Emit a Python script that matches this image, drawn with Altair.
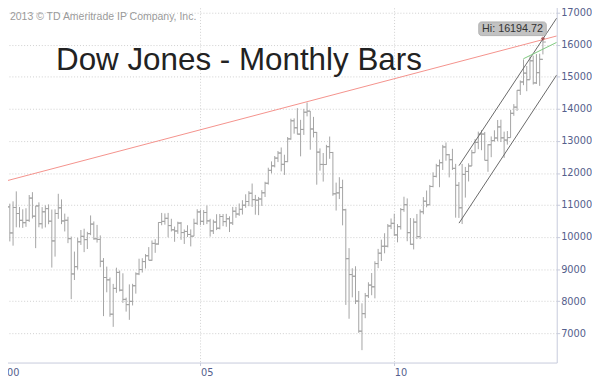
import altair as alt
import pandas as pd

# ---- monthly OHLC, Dec 1999 .. Nov 2013 ----
first_year, first_month = 1999, 12
opens = [
    10878,
    11501, 10941, 10128, 10922, 10734, 10522, 10448, 10522, 11215, 10651, 10971, 10415,
    10788, 10887, 10495, 9879, 10735, 10912, 10502, 10523, 9950, 8848, 9075, 9852,
    10022, 9920, 10106, 10404, 9946, 9925, 9243, 8737, 8664, 7592, 8397, 8896,
    8342, 8054, 7891, 7992, 8480, 8850, 8985, 9234, 9416, 9275, 9801, 9782,
    10454, 10488, 10584, 10358, 10226, 10188, 10435, 10140, 10174, 10080, 10027, 10428,
    10783, 10490, 10766, 10504, 10193, 10467, 10275, 10641, 10482, 10569, 10440, 10806,
    10718, 10865, 10993, 11109, 11367, 11168, 11150, 11186, 11381, 11679, 12081, 12222,
    12463, 12622, 12269, 12354, 13063, 13628, 13409, 13212, 13358, 13896, 13930, 13372,
    13265, 12650, 12266, 12263, 12820, 12638, 11350, 11378, 11544, 10851, 9325, 8829,
    8776, 8001, 7063, 7609, 8168, 8500, 8447, 9172, 9496, 9712, 9713, 10345,
    10428, 10067, 10325, 10857, 11009, 10137, 9774, 10466, 10015, 10788, 11118, 11006,
    11578, 11892, 12226, 12320, 12811, 12570, 12414, 12143, 11614, 10913, 11955, 12046,
    12218, 12633, 12952, 13212, 13214, 12393, 12880, 13009, 13091, 13437, 13096, 13026,
    13104, 13861, 14054, 14579, 14840, 15116, 14910, 15500, 14810, 15130, 15546,
]
highs = [
    11570,
    11750, 11041, 11114, 11425, 10936, 10866, 10898, 11311, 11401, 10974, 11082, 10935,
    10987, 11018, 10858, 10863, 11350, 11175, 10731, 10633, 10015, 9546, 9976, 10220,
    10260, 10163, 10674, 10486, 10379, 10051, 9343, 9077, 8737, 8538, 9043, 8954,
    8869, 8109, 8522, 8540, 8898, 9323, 9339, 9467, 9686, 9892, 9933, 10462,
    10753, 10738, 10753, 10570, 10326, 10479, 10470, 10237, 10368, 10239, 10572, 10868,
    10855, 10842, 10984, 10569, 10543, 10712, 10720, 10720, 10723, 10646, 10940, 10940,
    11048, 11150, 11334, 11432, 11670, 11315, 11252, 11464, 11725, 12163, 12361, 12529,
    12686, 12795, 12569, 13121, 13693, 13703, 14022, 13658, 14000, 14198, 13932, 13750,
    13280, 12767, 12622, 12877, 13136, 12657, 11698, 11867, 11790, 10882, 9654, 9026,
    9088, 8316, 7932, 8254, 8588, 8878, 9243, 9630, 9918, 10119, 10406, 10580,
    10729, 10404, 10906, 11258, 11206, 10594, 10584, 10720, 10860, 11247, 11451, 11625,
    12021, 12284, 12419, 12876, 12950, 12592, 12753, 12284, 11717, 12284, 12188, 12300,
    12720, 13055, 13290, 13338, 13280, 12898, 13139, 13331, 13653, 13662, 13290, 13308,
    13969, 14149, 14585, 14888, 15542, 15340, 15634, 15658, 15709, 15721, 16194.72,
]
lows = [
    10850,
    10638, 9863, 9731, 10305, 10299, 10286, 10319, 10471, 10580, 9654, 10305, 10263,
    10300, 10400, 9047, 9389, 10567, 10403, 10174, 9810, 8062, 8659, 8986, 9754,
    9529, 9626, 10059, 9915, 9827, 9058, 7532, 8275, 7512, 7197, 8258, 8303,
    7945, 7673, 7416, 7865, 8234, 8812, 8892, 9018, 9275, 9259, 9507, 9760,
    10368, 10386, 9991, 10173, 9852, 10100, 9913, 9784, 10000, 9708, 10028, 10379,
    10368, 10375, 10404, 10013, 10094, 10217, 10240, 10340, 10320, 10156, 10375, 10600,
    10661, 10702, 10914, 10964, 10940, 10698, 10683, 10971, 11250, 11637, 11986, 12174,
    12339, 12050, 11939, 12337, 13035, 13226, 13202, 12518, 13187, 13766, 12725, 13108,
    11634, 12071, 11731, 12254, 12442, 11287, 10827, 11185, 10365, 7882, 7450, 8118,
    7909, 7011, 6470, 7467, 8098, 8184, 8087, 9029, 9252, 9493, 9678, 10248,
    10040, 9835, 10233, 10788, 9870, 9757, 9614, 9937, 9936, 10711, 10929, 11004,
    11551, 11860, 11555, 12093, 12381, 11862, 12093, 10605, 10597, 10405, 11231, 11735,
    12218, 12629, 12742, 12710, 12392, 12036, 12492, 12980, 12995, 12965, 12471, 12884,
    13104, 13784, 13937, 14434, 14740, 14551, 14910, 14760, 14777, 14719, 15700,
]
closes = [
    11497,
    10941, 10128, 10922, 10734, 10522, 10448, 10522, 11215, 10651, 10971, 10415, 10788,
    10887, 10495, 9879, 10735, 10912, 10502, 10523, 9950, 8848, 9075, 9852, 10022,
    9920, 10106, 10404, 9946, 9925, 9243, 8737, 8664, 7592, 8397, 8896, 8342,
    8054, 7891, 7992, 8480, 8850, 8985, 9234, 9416, 9275, 9801, 9782, 10454,
    10488, 10584, 10358, 10226, 10188, 10435, 10140, 10174, 10080, 10027, 10428, 10783,
    10490, 10766, 10504, 10193, 10467, 10275, 10641, 10482, 10569, 10440, 10806, 10718,
    10865, 10993, 11109, 11367, 11168, 11150, 11186, 11381, 11679, 12081, 12222, 12463,
    12622, 12269, 12354, 13063, 13628, 13409, 13212, 13358, 13896, 13930, 13372, 13265,
    12650, 12266, 12263, 12820, 12638, 11350, 11378, 11544, 10851, 9325, 8829, 8776,
    8001, 7063, 7609, 8168, 8500, 8447, 9172, 9496, 9712, 9713, 10345, 10428,
    10067, 10325, 10857, 11009, 10137, 9774, 10466, 10015, 10788, 11118, 11006, 11578,
    11892, 12226, 12320, 12811, 12570, 12414, 12143, 11614, 10913, 11955, 12046, 12218,
    12633, 12952, 13212, 13214, 12393, 12880, 13009, 13091, 13437, 13096, 13026, 13104,
    13861, 14054, 14579, 14840, 15116, 14910, 15500, 14810, 15130, 15546, 16086,
]

# ---- trend lines (endpoints: year fraction, index level) ----
line_names = ["resistance", "resistance", "chan_low", "chan_low", "chan_high", "chan_high", "green", "green"]
line_t = [2000.0, 2014.19, 2011.67, 2014.19, 2011.67, 2014.19, 2013.33, 2014.19]
line_v = [11755, 16275, 10434, 15060, 12229, 16835, 15563, 16076]
line_color_names = ["resistance", "chan_low", "chan_high", "green"]
line_colors = ["#f4908a", "#666666", "#666666", "#7cc87c"]

title_text = "Dow Jones - Monthly Bars"
copyright_text = "2013 \u00a9 TD Ameritrade IP Company, Inc."
hi_label = "Hi: 16194.72"
hi_t = 2013 + 10 / 12
hi_v = 16194.72

x_ticks = [2000, 2005, 2010]
y_ticks = list(range(7000, 17001, 1000))

# ---- build table ----
t = []
y, m = first_year, first_month
for _ in closes:
    t.append(y + (m - 1) / 12)
    m += 1
    if m > 12:
        m = 1
        y += 1
bars = pd.DataFrame({"t": t, "open": opens, "high": highs, "low": lows, "close": closes})
lines = pd.DataFrame({"name": line_names, "t": line_t, "v": line_v})

W, H = 565, 365
XDOM = [1999.91, 2014.19]
YDOM = [6083, 17245]
BAR = "#a3a3a3"
AXC = "#c6cadb"
LABC = "#55608c"

xs = alt.Scale(domain=XDOM, nice=False, zero=False)
ys = alt.Scale(domain=YDOM, nice=False, zero=False)

xaxis = alt.Axis(values=x_ticks, labelExpr="substring(toString(datum.value), 2, 4)",
                 labelAlign="left", labelPadding=2, tickSize=3, tickColor=AXC, domainColor=AXC,
                 grid=True, gridDash=[1, 2], gridColor="#cfcfcf", labelColor=LABC,
                 labelFont="DejaVu Sans", labelFontSize=10, title=None, labelFlush=False,
                 labelOverlap=False)
yaxis = alt.Axis(orient="right", values=y_ticks, format="d", labelPadding=1, tickSize=3,
                 tickColor=AXC, domainColor=AXC, grid=True, gridDash=[1, 2], gridColor="#cfcfcf",
                 labelColor=LABC, labelFont="DejaVu Sans", labelFontSize=10, title=None,
                 labelOverlap=False, labelFlush=False)


def X(field):
    return alt.X(field, scale=xs, axis=xaxis, title=None)


def Y(field):
    return alt.Y(field, scale=ys, axis=yaxis, title=None)


base = alt.Chart(bars)
hl = base.mark_rule(color=BAR, strokeWidth=1, clip=True).encode(
    x=X("t:Q"), y=Y("low:Q"), y2="high:Q")
op = base.mark_rule(color=BAR, strokeWidth=1, x2Offset=-3, clip=True).encode(
    x=X("t:Q"), x2="t:Q", y=Y("open:Q"))
cl = base.mark_rule(color=BAR, strokeWidth=1, x2Offset=3, clip=True).encode(
    x=X("t:Q"), x2="t:Q", y=Y("close:Q"))

trend = alt.Chart(lines).mark_line(strokeWidth=1, clip=True).encode(
    x=X("t:Q"),
    y=Y("v:Q"),
    detail="name:N",
    color=alt.Color("name:N", scale=alt.Scale(domain=line_color_names, range=line_colors), legend=None),
)

left_border = alt.Chart(pd.DataFrame({"a": [0]})).mark_rule(color=AXC).encode(
    x=alt.value(0), y=alt.value(0), y2=alt.value(H))

title = alt.Chart(pd.DataFrame({"s": [title_text]})).mark_text(
    align="left", baseline="alphabetic", font="Liberation Sans", fontSize=32, color="#222222"
).encode(x=alt.value(54), y=alt.value(66), text="s:N")

copyright = alt.Chart(pd.DataFrame({"s": [copyright_text]})).mark_text(
    align="left", baseline="alphabetic", font="Liberation Sans", fontSize=10.7, color="#9a9a9a"
).encode(x=alt.value(7), y=alt.value(15.5), text="s:N")

hi_df = pd.DataFrame({"t": [hi_t], "v": [hi_v], "s": [hi_label]})
hi_box = alt.Chart(hi_df).mark_rect(width=69, height=14, cornerRadius=3, color="#c2c2c2",
                                    stroke="#a8a8a8", strokeWidth=0.8, xOffset=-31, yOffset=-10).encode(
    x=X("t:Q"), y=Y("v:Q"))
hi_txt = alt.Chart(hi_df).mark_text(font="Liberation Sans", fontSize=11, color="#333333",
                                    xOffset=-31, yOffset=-10, baseline="middle", align="center").encode(
    x=X("t:Q"), y=Y("v:Q"), text="s:N")
hi_pt = alt.Chart(hi_df).mark_point(shape="cross", size=14, filled=True, color="#9a3a3a").encode(
    x=X("t:Q"), y=Y("v:Q"))

chart = alt.layer(
    hl, op, cl, trend, left_border, title, copyright, hi_box, hi_txt, hi_pt
).properties(
    width=W, height=H,
    padding={"left": -6, "top": -8, "right": 0, "bottom": 0},
    background="white",
).configure_view(stroke=None)

chart.save("out.html", embed_options={"renderer": "svg", "actions": False})
